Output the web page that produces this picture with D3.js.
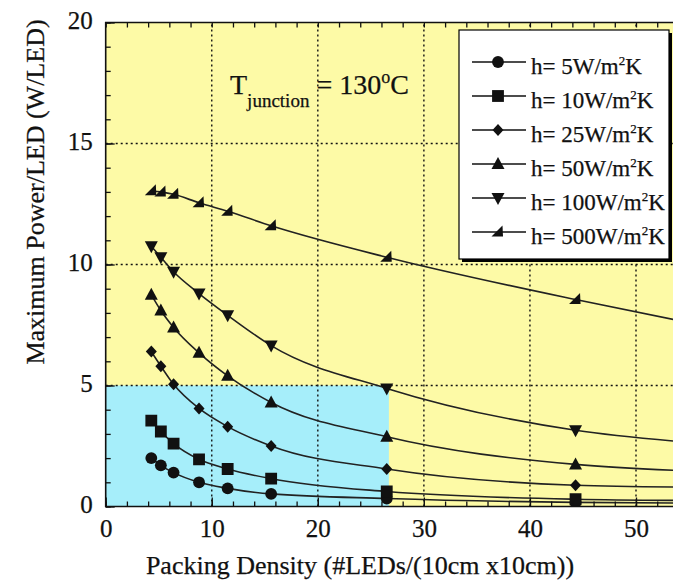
<!DOCTYPE html>
<html>
<head>
<meta charset="utf-8">
<script src="https://cdn.jsdelivr.net/npm/d3@7"></script>
<style>
    body { margin: 0; background: #fff; }
    text { font-family: "Liberation Serif", "Times New Roman", serif; fill: #111; stroke: #111; stroke-width: 0.25px; }
</style>
</head>
<body>
<svg id="chart"></svg>
<script>
// packing density of the simulated layouts (#LEDs per 10cm x 10cm)
const density = [4.3, 5.2, 6.4, 8.8, 11.5, 15.6, 26.5, 44.3];
const hValues = ["5", "10", "25", "50", "100", "500"];

// max power per LED (W) for each h
const power5   = [2.0, 1.7, 1.4, 1.0, 0.75, 0.52, 0.33, 0.17];
const power10  = [3.55, 3.1, 2.6, 1.95, 1.55, 1.15, 0.62, 0.3];
const power25  = [6.4, 5.8, 5.05, 4.05, 3.3, 2.5, 1.55, 0.88];
const power50  = [8.75, 8.1, 7.4, 6.35, 5.4, 4.3, 2.88, 1.74];
const power100 = [10.75, 10.3, 9.7, 8.8, 7.9, 6.65, 4.88, 3.15];
const power500 = [13.05, 13.0, 12.9, 12.55, 12.2, 11.6, 10.3, 8.55];

// where the fitted curves leave the right edge
const curveEndX = 55;
const curveEnd = [0.14, 0.25, 0.8, 1.47, 2.65, 7.6];

const xTicks = [0, 10, 20, 30, 40, 50];
const yTicks = [0, 5, 10, 15, 20];

// highlighted region (cyan box)
const safeMaxX = 26.7;
const safeMaxY = 5;

const allSeries = [power5, power10, power25, power50, power100, power500];

const W = 673, H = 585;
const margin = { left: 105.7, top: 22.5, bottom: 78.5 };
const plotH = H - margin.top - margin.bottom;
const pxPerX = 10.606;

const svg = d3.select("#chart").attr("width", W).attr("height", H);

const x = d3.scaleLinear().domain([0, 55]).range([margin.left, margin.left + 55 * pxPerX]);
const y = d3.scaleLinear().domain([0, 20]).range([margin.top + plotH, margin.top]);

svg.append("clipPath").attr("id", "plotclip")
    .append("rect")
    .attr("x", x(0)).attr("y", y(20))
    .attr("width", W - x(0)).attr("height", y(0) - y(20));

const plot = svg.append("g").attr("clip-path", "url(#plotclip)");

// backgrounds
plot.append("rect")
    .attr("x", x(0)).attr("y", y(20))
    .attr("width", x(55) - x(0)).attr("height", y(0) - y(20))
    .attr("fill", "#fdfaa6");
plot.append("rect")
    .attr("x", x(0)).attr("y", y(safeMaxY))
    .attr("width", x(safeMaxX) - x(0)).attr("height", y(0) - y(safeMaxY))
    .attr("fill", "#a6eefa");

// dotted grid
plot.append("g").selectAll("line")
    .data(xTicks.slice(1))
    .join("line")
    .attr("x1", d => x(d)).attr("x2", d => x(d))
    .attr("y1", y(0)).attr("y2", y(20))
    .attr("stroke", "#111").attr("stroke-width", 1.4).attr("stroke-dasharray", "2,3");
plot.append("g").selectAll("line")
    .data(yTicks.slice(1, -1))
    .join("line")
    .attr("x1", x(0)).attr("x2", x(55))
    .attr("y1", d => y(d)).attr("y2", d => y(d))
    .attr("stroke", "#111").attr("stroke-width", 1.4).attr("stroke-dasharray", "2,3");

// axes (ticks point inward)
const minorX = d3.range(0, 56, 2);
const minorY = d3.range(0, 21, 1);

svg.append("g")
    .attr("transform", `translate(0,${y(0)})`)
    .call(d3.axisBottom(x).tickValues(minorX).tickSize(-5).tickFormat(""))
    .call(g => g.select(".domain").remove());
svg.append("g")
    .attr("transform", `translate(0,${y(20)})`)
    .call(d3.axisTop(x).tickValues(minorX).tickSize(-5).tickFormat(""))
    .call(g => g.select(".domain").remove());
svg.append("g")
    .attr("transform", `translate(${x(0)},0)`)
    .call(d3.axisLeft(y).tickValues(minorY).tickSize(-5).tickFormat(""))
    .call(g => g.select(".domain").remove());

const xAxisG = svg.append("g")
    .attr("transform", `translate(0,${y(0)})`)
    .call(d3.axisBottom(x).tickValues(xTicks).tickSize(-9).tickPadding(13));
xAxisG.select(".domain").remove();

const yAxisG = svg.append("g")
    .attr("transform", `translate(${x(0)},0)`)
    .call(d3.axisLeft(y).tickValues(yTicks).tickSize(-9).tickPadding(13));
yAxisG.select(".domain").remove();

svg.selectAll(".tick line").attr("stroke", "#111").attr("stroke-width", 1.3);
svg.selectAll(".tick text")
    .attr("font-family", "Liberation Serif")
    .attr("font-size", 25)
    .attr("fill", "#111");
yAxisG.selectAll(".tick text").attr("dy", "0.25em");

// frame
svg.append("path")
    .attr("d", `M${W},${y(20)} H${x(0)} V${y(0)} H${W}`)
    .attr("fill", "none").attr("stroke", "#111").attr("stroke-width", 1.6);

// curves
const line = d3.line()
    .x(d => x(d[0]))
    .y(d => y(d[1]))
    .curve(d3.curveMonotoneX);

allSeries.forEach((vals, i) => {
    const pts = density.map((d, j) => [d, vals[j]]);
    pts.push([curveEndX, curveEnd[i]]);
    plot.append("path")
        .attr("d", line(pts))
        .attr("fill", "none")
        .attr("stroke", "#222")
        .attr("stroke-width", 1.6);
});

// marker shapes
const markerPath = [
    d3.symbol(d3.symbolCircle, 110)(),
    d3.symbol(d3.symbolSquare, 140)(),
    "M0,-6L5.5,0L0,6L-5.5,0Z",
    "M0,-7L6.5,5L-6.5,5Z",
    "M0,7L6.5,-5L-6.5,-5Z",
    "M-6.5,4.5L5,4.5L4.5,-6.5Z"
];

allSeries.forEach((vals, i) => {
    plot.append("g").selectAll("path")
        .data(density.map((d, j) => [d, vals[j]]))
        .join("path")
        .attr("transform", d => `translate(${x(d[0])},${y(d[1])})`)
        .attr("d", markerPath[i])
        .attr("fill", "#111");
});

// annotation T_junction = 130°C
const ann = svg.append("text").attr("x", 230).attr("y", 94).attr("font-size", 28);
ann.append("tspan").text("T");
ann.append("tspan").attr("font-size", 19).attr("dy", 13).text("junction");
ann.append("tspan").attr("dy", -13).text(" = 130");
ann.append("tspan").attr("font-size", 18).attr("dy", -11).text("o");
ann.append("tspan").attr("dy", 11).text("C");

// legend
const lg = { x: 459, y: 30, w: 210, h: 229 };
svg.append("rect")
    .attr("x", lg.x + 3).attr("y", lg.y + 3)
    .attr("width", lg.w).attr("height", lg.h)
    .attr("fill", "#000");
svg.append("rect")
    .attr("x", lg.x).attr("y", lg.y)
    .attr("width", lg.w).attr("height", lg.h)
    .attr("fill", "#fff").attr("stroke", "#000").attr("stroke-width", 1.2);

hValues.forEach((h, i) => {
    const cy = 62 + i * 34;
    const row = svg.append("g");
    row.append("line")
        .attr("x1", 472).attr("x2", 526)
        .attr("y1", cy).attr("y2", cy)
        .attr("stroke", "#111").attr("stroke-width", 1.6);
    row.append("path")
        .attr("transform", `translate(498,${cy})`)
        .attr("d", markerPath[i])
        .attr("fill", "#111");
    const t = row.append("text").attr("x", 531).attr("y", cy + 12).attr("font-size", 23);
    t.append("tspan").text(`h= ${h}W/m`);
    t.append("tspan").attr("font-size", 13).attr("dy", -9).text("2");
    t.append("tspan").attr("dy", 9).text("K");
});

// axis titles
svg.append("text")
    .attr("x", 360).attr("y", 574)
    .attr("text-anchor", "middle")
    .attr("font-size", 26)
    .text("Packing Density (#LEDs/(10cm x10cm))");

svg.append("text")
    .attr("transform", "translate(44,192) rotate(-90)")
    .attr("text-anchor", "middle")
    .attr("font-size", 26)
    .text("Maximum Power/LED (W/LED)");
</script>
</body>
</html>
